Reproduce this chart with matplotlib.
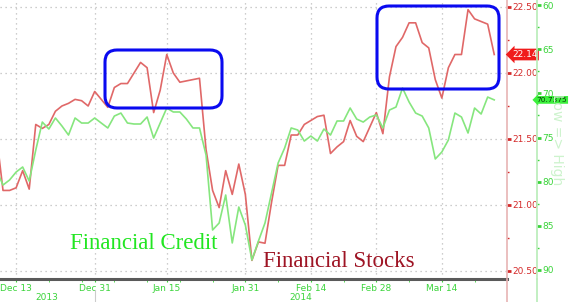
import numpy as np
import pandas as pd
import matplotlib
matplotlib.use("Agg")
import matplotlib.pyplot as plt
from matplotlib.patches import FancyBboxPatch
from matplotlib.lines import Line2D
import matplotlib.transforms as mtransforms

# weekday axis, Dec 10 2013 .. Mar 26 2014
dates = pd.bdate_range("2013-12-10", "2014-03-26")

# Financial Stocks (left/red scale)
stocks = [21.53, 21.11, 21.11, 21.13, 21.26, 21.12, 21.61, 21.58, 21.61, 21.71,
          21.75, 21.77, 21.80, 21.79, 21.75, 21.86, 21.80, 21.74, 21.89, 21.92,
          21.92, 22.00, 22.08, 22.04, 21.70, 21.87, 22.14, 22.00, 21.93, 21.94,
          21.95, 21.96, 21.42, 21.11, 20.98, 21.26, 21.08, 21.31, 21.08, 20.58,
          20.72, 20.71, 21.02, 21.30, 21.30, 21.53, 21.53, 21.61, 21.64, 21.67,
          21.68, 21.39, 21.44, 21.48, 21.64, 21.52, 21.48, 21.59, 21.70, 21.54,
          21.97, 22.20, 22.27, 22.38, 22.38, 22.23, 22.19, 21.95, 21.81, 22.04,
          22.14, 22.14, 22.48, 22.41, 22.39, 22.37, 22.14]

# Financial Credit (inverted green scale)
credit = [78.68, 80.38, 79.81, 78.91, 78.34, 79.93, 76.42, 73.25, 74.04, 72.79,
          73.70, 74.72, 72.79, 73.36, 73.36, 72.79, 73.36, 73.92, 72.57, 72.23,
          73.36, 73.47, 73.47, 72.68, 75.06, 73.36, 71.66, 72.11, 72.11, 72.91,
          73.92, 73.92, 76.98, 85.47, 84.68, 81.51, 86.94, 82.87, 84.91, 88.87,
          86.72, 84.68, 81.28, 77.89, 76.19, 73.92, 74.15, 75.40, 74.83, 75.40,
          74.04, 74.72, 73.13, 73.13, 71.66, 72.91, 73.25, 72.68, 72.45, 73.92,
          71.89, 71.55, 69.40, 70.98, 72.23, 72.57, 73.92, 77.43, 76.64, 75.28,
          72.23, 72.68, 74.49, 71.66, 72.34, 70.42, 70.74]

tick_dates = ["2013-12-13", "2013-12-31", "2014-01-15", "2014-01-31",
              "2014-02-14", "2014-02-28", "2014-03-14"]
tick_labels = ["Dec 13", "Dec 31", "Jan 15", "Jan 31", "Feb 14", "Feb 28", "Mar 14"]
stock_ticks = [20.5, 21.0, 21.5, 22.0, 22.5]
credit_ticks = [60, 65, 70, 75, 80, 85, 90]

RED = "#e06868"
GREEN = "#86e67e"
RED_TXT = "#d42a2a"
GREEN_TXT = "#3ad43a"

x = np.arange(len(dates))
tick_pos = dates.get_indexer(pd.to_datetime(tick_dates))

fig = plt.figure(figsize=(5.69, 3.02), dpi=100)
fig.patch.set_facecolor("white")
ax = fig.add_axes([0, 23 / 302, 507 / 569, 279 / 302])
ax2 = ax.twinx()

ax.plot(x, stocks, color=RED, lw=1.2, zorder=3)
ax2.plot(x, credit, color=GREEN, lw=1.2, zorder=2)

ax.set_xlim(0.54, 77.95)
ax.set_ylim(20.439, 22.553)
ax2.set_ylim(91.02, 59.43)

# grid
for v in stock_ticks:
    ax.axhline(v, color="#bdbdbd", lw=0.9, ls=(0, (1, 3)), zorder=0)
for p in tick_pos:
    ax.axvline(p, color="#bdbdbd", lw=0.9, ls=(0, (1, 3)), zorder=0)

# spines
for s in ["top", "left"]:
    ax.spines[s].set_visible(False)
    ax2.spines[s].set_visible(False)
ax2.spines["bottom"].set_visible(False)
ax.spines["bottom"].set_color("#5a5a5a")
ax.spines["bottom"].set_linewidth(2.2)
ax.spines["right"].set_color("#e8b4b4")
ax.spines["right"].set_linewidth(1.2)
ax2.spines["right"].set_position(("axes", 537 / 507))
ax2.spines["right"].set_color("#b8ecb8")
ax2.spines["right"].set_linewidth(1.2)

# x axis
ax.set_xticks(tick_pos)
ax.set_xticklabels(tick_labels)
ax.set_xticks(np.arange(3, 78, 5), minor=True)
ax.tick_params(axis="x", which="both", colors=GREEN_TXT, labelsize=6.5,
               length=2, pad=1.5)

# red scale
ax.yaxis.tick_right()
ax.set_yticks(stock_ticks)
ax.set_yticklabels(["%.2f" % v for v in stock_ticks])
ax.set_yticks(np.arange(20.75, 22.5, 0.5), minor=True)
ax.tick_params(axis="y", which="major", colors=RED_TXT, labelsize=6.5,
               length=3, width=2, pad=1)
ax.tick_params(axis="y", which="minor", colors=RED_TXT, length=1.5, width=1)

# green scale
ax2.set_yticks(credit_ticks)
ax2.set_yticklabels([str(v) for v in credit_ticks])
ax2.set_yticks(np.arange(62.5, 90, 5), minor=True)
ax2.tick_params(axis="y", which="major", colors=GREEN_TXT, labelsize=6.5,
                length=3, width=2, pad=1)
ax2.tick_params(axis="y", which="minor", colors=GREEN_TXT, length=1.5, width=1)

# year labels and separator
blend = mtransforms.blended_transform_factory(ax.transData, ax.transAxes)
ax.text(7.7, -0.065, "2013", transform=blend, ha="center", va="center",
        fontsize=6.5, color=GREEN_TXT)
ax.text(46.5, -0.065, "2014", transform=blend, ha="center", va="center",
        fontsize=6.5, color=GREEN_TXT)
ax.plot([tick_pos[1]] * 2, [-0.04, -0.09], transform=blend, clip_on=False,
        color="#cccccc", lw=0.8)

# axis lines continue to bottom edge
fig.add_artist(Line2D([507 / 569] * 2, [0, 23 / 302], color="#e8b4b4", lw=1.2))
fig.add_artist(Line2D([537 / 569] * 2, [0, 23 / 302], color="#b8ecb8", lw=1.2))

fig.text(557 / 569, 1 - 140 / 302, "Low => High", rotation=270, ha="center",
         va="center", fontsize=10, color="#cdf3cd")

# last value boxes
ax.annotate("%.2f" % stocks[-1], xy=(1.0, stocks[-1]),
            xycoords=("axes fraction", "data"), xytext=(1.035, stocks[-1]),
            textcoords=("axes fraction", "data"), ha="center", va="center",
            fontsize=6.5, color="white",
            bbox=dict(boxstyle="larrow,pad=0.15", fc="#f01c1c", ec="none"))
ax2.annotate("70.7375", xy=(537 / 507, credit[-1]),
             xycoords=("axes fraction", "data"), xytext=(1.0885, credit[-1]),
             textcoords=("axes fraction", "data"), ha="center", va="center",
             fontsize=5.3, color="#0a3a0a", annotation_clip=False,
             bbox=dict(boxstyle="larrow,pad=0.12", fc="#3cf03c", ec="none"))

# highlight boxes
for bx, by, bw, bh in [(1.05, 1.94, 1.17, 0.58), (3.77, 2.13, 1.22, 0.83)]:
    fig.add_artist(FancyBboxPatch((bx, by), bw, bh,
                                  boxstyle="round,pad=0,rounding_size=0.12",
                                  transform=fig.dpi_scale_trans, fc="none",
                                  ec="#0a0af0", lw=2.2))

# series labels
ax.text(11.2, 0.129, "Financial Credit", transform=blend, ha="left",
        va="center", fontsize=16.5, family="Liberation Serif", color="#22e622")
ax.text(40.7, 0.061, "Financial Stocks", transform=blend, ha="left",
        va="center", fontsize=16.5, family="Liberation Serif", color="#9e1424")

fig.savefig("out.png", dpi=100)
